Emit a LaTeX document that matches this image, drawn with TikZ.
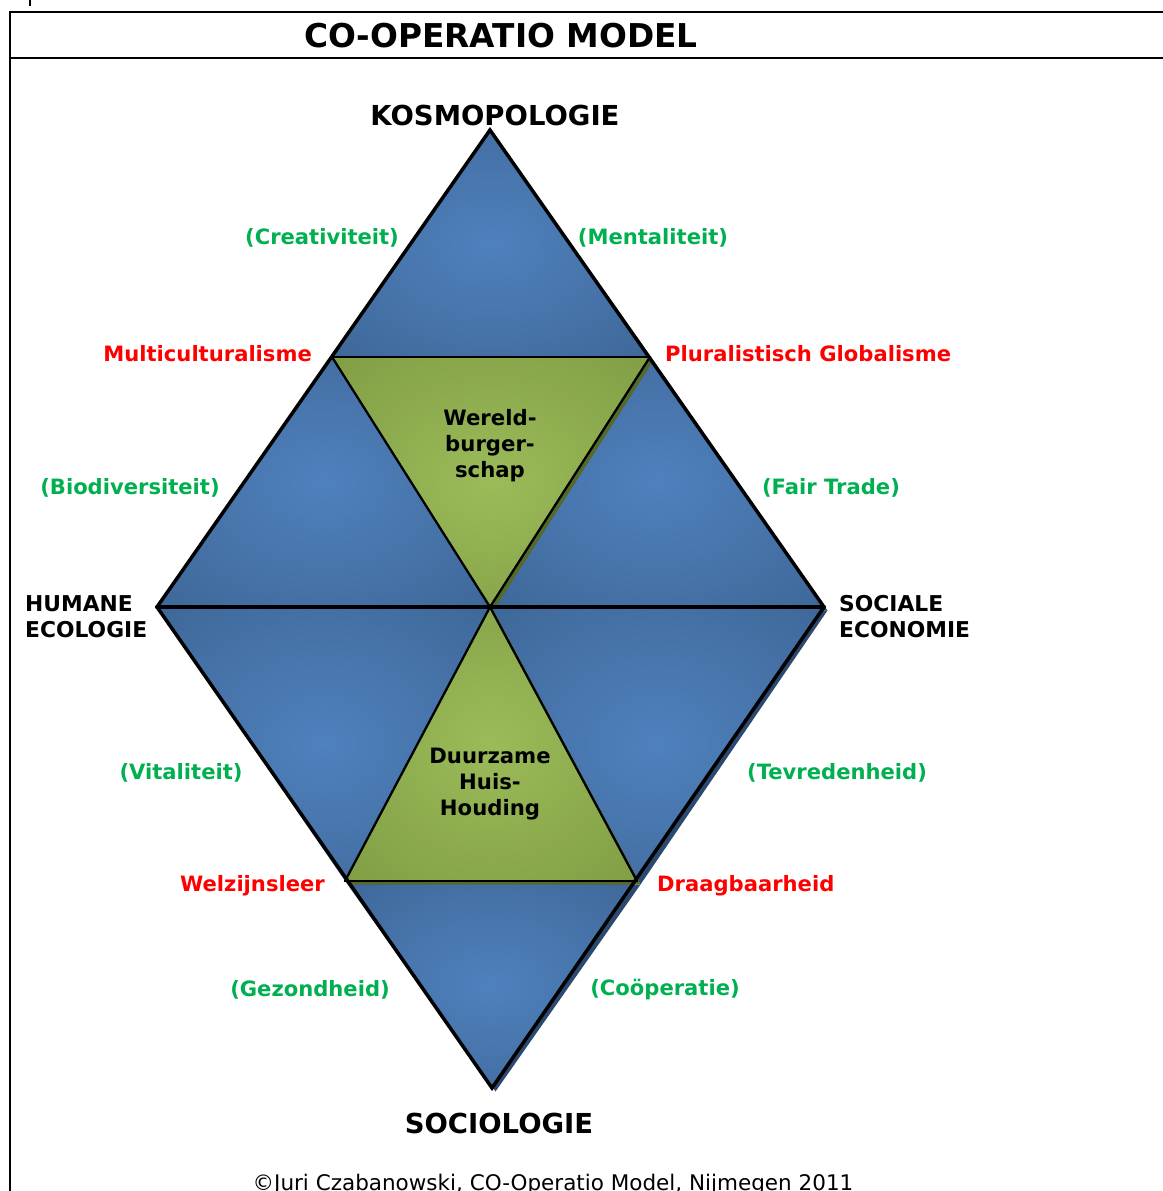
\documentclass[tikz,border=0pt]{standalone}
\usepackage{fontspec}
\setmainfont{DejaVu Sans}
\usepackage{tikz}
\usetikzlibrary{calc}
\usepackage{tkz-euclide}
\usepackage{xcolor}
\definecolor{DiamondBlue}{HTML}{4F81BD}
\definecolor{DiamondBlueDark}{HTML}{385D8A}
\definecolor{DiamondBlueShadow}{HTML}{2C4A70}
\definecolor{DiamondGreen}{HTML}{9BBB59}
\definecolor{DiamondGreenDark}{HTML}{76923C}
\definecolor{DiamondGreenShadow}{HTML}{55692B}
\definecolor{LabelGreen}{HTML}{00B050}
\definecolor{LabelRed}{HTML}{FF0000}
\pgfdeclareradialshading{bluefill}{\pgfpoint{0bp}{0bp}}{color(0bp)=(DiamondBlue); color(50bp)=(DiamondBlueDark); color(100bp)=(DiamondBlueDark)}
\pgfdeclareradialshading{greenfill}{\pgfpoint{0bp}{0bp}}{color(0bp)=(DiamondGreen); color(50bp)=(DiamondGreenDark); color(100bp)=(DiamondGreenDark)}
\tikzset{
  title label/.style={font=\bfseries\fontsize{32.8}{38}\selectfont},
  axis label/.style={font=\bfseries\fontsize{27.5}{32}\selectfont},
  pole label/.style={font=\bfseries\fontsize{21.8}{26}\selectfont, align=left, inner sep=0pt},
  value label/.style={font=\bfseries\fontsize{21.1}{25}\selectfont, text=LabelGreen, inner sep=0pt},
  norm label/.style={font=\bfseries\fontsize{21.1}{25}\selectfont, text=LabelRed, inner sep=0pt},
  core label/.style={font=\bfseries\fontsize{21.2}{26}\selectfont, align=center},
}

\begin{document}
\begin{tikzpicture}[x=1pt,y=-1pt]
    \useasboundingbox[fill=white] (0,0) rectangle (1162,1191);

    % frame and title bar
    \fill (28.5,0) rectangle (31,6);
    \draw[line width=2pt] (10,1200) -- (10,12) -- (1170,12);
    \draw[line width=2pt] (10,58) -- (1170,58);
    \node[title label] (title) at (501,36) {CO-OPERATIO MODEL};

    % corners and midpoints of the diamond
    \tkzDefPoint(490,130){K}
    \tkzDefPoint(157,607){H}
    \tkzDefPoint(824,607){S}
    \tkzDefPoint(492,1088){Z}
    \tkzDefPoint(490,607){M}
    \tkzDefPoint(332,357){A}
    \tkzDefPoint(650,357){B}
    \tkzDefPoint(345,881){C}
    \tkzDefPoint(637,881){D}

    % blue triangles
    \foreach \p/\q/\r in {K/A/B, A/H/M, B/M/S, H/M/C, M/S/D, C/D/Z}{
      \fill[DiamondBlueShadow] ([shift={(3.5,3.5)}]\p) -- ([shift={(3.5,3.5)}]\q) -- ([shift={(3.5,3.5)}]\r) -- cycle;
      \shade[shading=bluefill] (\p) -- (\q) -- (\r) -- cycle;
    }
    % green triangles
    \foreach \p/\q/\r in {A/B/M, M/C/D}{
      \fill[DiamondGreenShadow] ([shift={(3.5,3.5)}]\p) -- ([shift={(3.5,3.5)}]\q) -- ([shift={(3.5,3.5)}]\r) -- cycle;
      \shade[shading=greenfill] (\p) -- (\q) -- (\r) -- cycle;
    }

    \tkzDrawSegments[line width=2.3pt](A,B C,D A,M B,M M,C M,D)
    \tkzDrawSegments[line width=4pt](H,S)
    \tkzDrawPolygon[line width=3.5pt,line join=miter](K,H,Z,S)

    % poles
    \node[axis label] (kosmo) at (495,115) {KOSMOPOLOGIE};
    \node[axis label] (socio) at (499,1123) {SOCIOLOGIE};
    \node[pole label,anchor=west] (humane) at (25,617) {HUMANE\\ECOLOGIE};
    \node[pole label,anchor=west] (sociale) at (839,617) {SOCIALE\\ECONOMIE};

    % values and norms
    \node[value label] (creat) at (322,238) {(Creativiteit)};
    \node[value label] (mental) at (653,238) {(Mentaliteit)};
    \node[norm label,anchor=east] (multi) at (312,354) {Multiculturalisme};
    \node[norm label,anchor=west] (plural) at (665,354) {Pluralistisch Globalisme};
    \node[value label] (biodiv) at (130,488) {(Biodiversiteit)};
    \node[value label] (fair) at (831,488) {(Fair Trade)};
    \node[value label] (vital) at (181,773) {(Vitaliteit)};
    \node[value label] (tevred) at (837,773) {(Tevredenheid)};
    \node[norm label,anchor=east] (welzijn) at (325,886) {Welzijnsleer};
    \node[norm label,anchor=west] (draag) at (657,886) {Draagbaarheid};
    \node[value label] (gezond) at (310,990) {(Gezondheid)};
    \node[value label] (coop) at (665,990) {(Coöperatie)};

    % inner triangles
    \node[core label] (wereld) at (490,446) {Wereld-\\burger-\\schap};
    \node[core label] (duurzaam) at (490,784) {Duurzame\\Huis-\\Houding};

    \node[font=\fontsize{21.5}{25}\selectfont,anchor=base] (credit) at (553,1190) {©Juri Czabanowski, CO-Operatio Model, Nijmegen 2011};
   \end{tikzpicture}
\end{document}
